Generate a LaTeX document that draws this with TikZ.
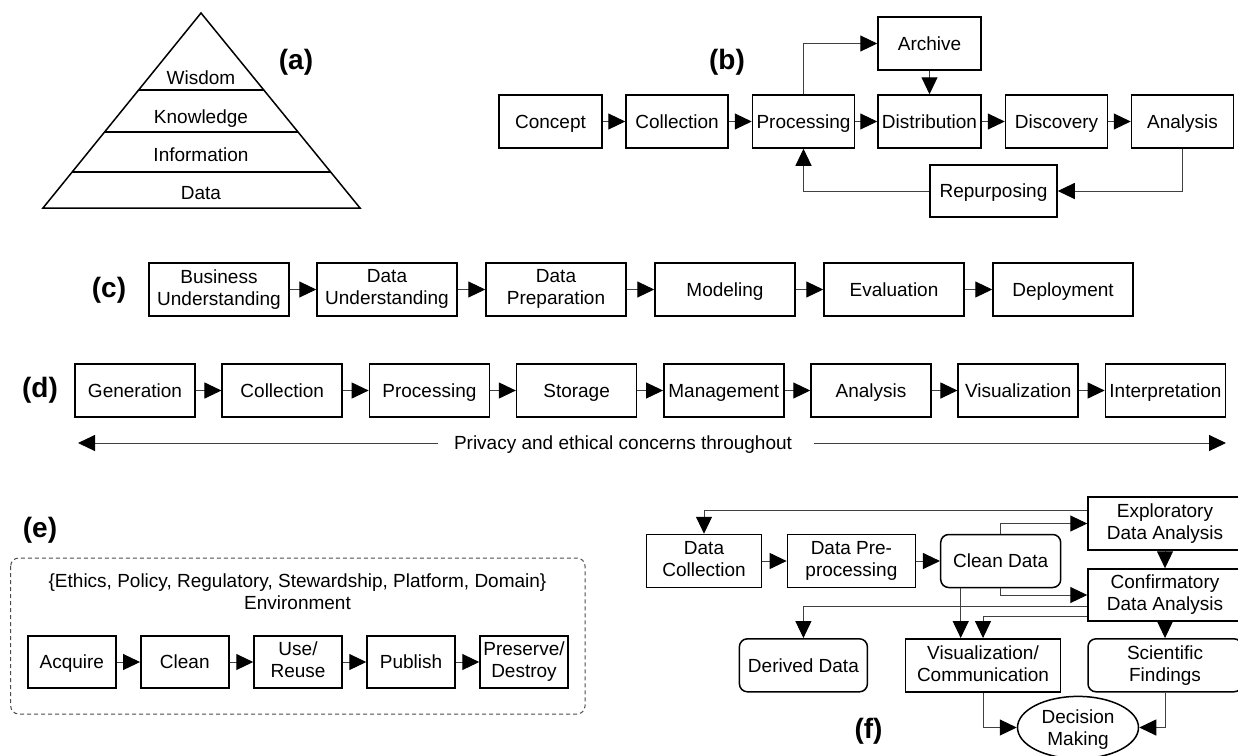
\documentclass[tikz,border=0pt]{standalone}
\usepackage{fontspec}
\setmainfont{Liberation Sans}
\usetikzlibrary{arrows.meta,shapes.geometric}
\newcommand\bstrut{\rule[-4.2pt]{0pt}{22pt}}

\begin{document}
\begin{tikzpicture}[x=1pt,y=-1pt,
  font=\fontsize{19}{22}\selectfont,
  box/.style={draw,line width=1.5pt,minimum height=53pt,inner sep=1pt,align=center,
    execute at begin node=\bstrut,execute at end node=\bstrut},
  rbox/.style={box,rounded corners=8pt},
  lbl/.style={font=\fontsize{28}{30}\selectfont\bfseries},
  arr/.style={-{Triangle[length=17pt,width=16pt,color=black]},line width=1pt,draw=black!75}]
  \useasboundingbox (0,0) rectangle (1238,755);

  % (a) pyramid
  \draw[line width=1.5pt] (201,13) -- (43,208) -- (360,208) -- cycle;
  \draw[line width=1.5pt] (138.6,90) -- (263.8,90);
  \draw[line width=1.5pt] (104.6,132) -- (298,132);
  \draw[line width=1.5pt] (72.2,172) -- (330.6,172);
  \node (a1) at (201,78) {\bstrut Wisdom};
  \node (a2) at (201,117) {\bstrut Knowledge};
  \node (a3) at (201,155) {\bstrut Information};
  \node (a4) at (201,193) {\bstrut Data};
  \node[lbl] (la) at (296,62) {(a)};

  % (b) life cycle with archive
  \node[box,minimum width=103pt] (b1) at (550.5,121.5) {Concept};
  \node[box,minimum width=102pt] (b2) at (677,121.5) {Collection};
  \node[box,minimum width=102pt] (b3) at (803.5,121.5) {Processing};
  \node[box,minimum width=103pt] (b4) at (929.5,121.5) {Distribution};
  \node[box,minimum width=102pt] (b5) at (1056.5,121.5) {Discovery};
  \node[box,minimum width=102pt] (b6) at (1182.5,121.5) {Analysis};
  \node[box,minimum width=103pt] (b7) at (929.5,43.5) {Archive}; % above Distribution
  \node[box,minimum width=127pt,minimum height=52pt] (b8) at (993.5,191) {Repurposing}; % loop back
  \node[lbl] (lb) at (727,62) {(b)};

  % (c) process model
  \node[lbl] (lc) at (109,290) {(c)};
  \node[box,minimum width=140pt] (c1) at (219,289.5) {Business\\Understanding};
  \node[box,minimum width=140pt] (c2) at (387,289.5) {Data\\Understanding};
  \node[box,minimum width=140pt] (c3) at (556,289.5) {Data\\Preparation};
  \node[box,minimum width=140pt] (c4) at (725,289.5) {Modeling};
  \node[box,minimum width=140pt] (c5) at (894,289.5) {Evaluation};
  \node[box,minimum width=140pt] (c6) at (1063,289.5) {Deployment};

  % (d) big data chain
  \node[lbl] (ld) at (40,390) {(d)};
  \node[box,minimum width=120pt] (d1) at (135,390.5) {Generation};
  \node[box,minimum width=120pt] (d2) at (282.2,390.5) {Collection};
  \node[box,minimum width=120pt] (d3) at (429.4,390.5) {Processing};
  \node[box,minimum width=120pt] (d4) at (576.6,390.5) {Storage};
  \node[box,minimum width=120pt] (d5) at (723.8,390.5) {Management};
  \node[box,minimum width=120pt] (d6) at (871,390.5) {Analysis};
  \node[box,minimum width=120pt] (d7) at (1018.2,390.5) {Visualization};
  \node[box,minimum width=120pt] (d8) at (1165.4,390.5) {Interpretation};
  \node[inner xsep=0pt] (pr) at (623,443) {\bstrut Privacy and ethical concerns throughout};
  \coordinate (prl) at (78,443);
  \coordinate (prr) at (1226,443);

  % (e) environment
  \node[lbl] (le) at (40,530) {(e)};
  \draw[dashed,dash pattern=on 4pt off 3pt,rounded corners=8pt,line width=1pt,black!70] (10.7,558) rectangle (585,714);
  \node[align=center] (env) at (297.5,592) {\bstrut\{Ethics, Policy, Regulatory, Stewardship, Platform, Domain\}\\Environment\bstrut};
  \node[box,minimum width=88pt,minimum height=52pt] (e1) at (71.8,662) {Acquire};
  \node[box,minimum width=88pt,minimum height=52pt] (e2) at (184.8,662) {Clean};
  \node[box,minimum width=88pt,minimum height=52pt] (e3) at (298,662) {Use/\\Reuse};
  \node[box,minimum width=88pt,minimum height=52pt,inner sep=0pt] (e4) at (411,662) {Publish};
  \node[box,minimum width=88pt,minimum height=52pt,inner sep=0pt] (e5) at (524,662) {Preserve/\\Destroy};

  % (f) data science workflow
  \node[box,minimum width=115pt] (f1) at (704,561) {Data\\Collection};
  \node[box,minimum width=128pt] (f2) at (851.4,561) {Data Pre-\\processing};
  \node[rbox,minimum width=120pt] (f3) at (1000.7,561) {Clean Data};
  \node[box,minimum width=154pt] (f4) at (1165,523.5) {Exploratory\\Data Analysis};
  \node[box,minimum width=154pt,minimum height=52pt] (f5) at (1165,595) {Confirmatory\\Data Analysis};
  \node[rbox,minimum width=128pt] (f6) at (803.4,665.3) {Derived Data};
  \node[box,minimum width=155pt] (f7) at (983,665.3) {Visualization/\\Communication};
  \node[rbox,minimum width=154pt] (f8) at (1165,665.3) {Scientific\\Findings};
  \node[ellipse,draw,line width=1.5pt,minimum width=121pt,minimum height=54pt,inner sep=0pt,align=center] (f9) at (1078,727.5) {\bstrut Decision\\Making\bstrut};
  \node[lbl] (lf) at (868.5,731) {(f)};
  \coordinate (cv) at ([xshift=-40pt]f3.south); % second line out of Clean Data

  % connectors (b)
  \draw[arr] (b1) -- (b2);
  \draw[arr] (b2) -- (b3);
  \draw[arr] (b3) -- (b4);
  \draw[arr] (b4) -- (b5);
  \draw[arr] (b5) -- (b6);
  \draw[arr] (b3.north) |- (b7.west);
  \draw[arr] (b7) -- (b4);
  \draw[arr] (b6.south) |- (b8.east);
  \draw[arr] (b8.west) -| (b3.south);

  % connectors (c)
  \draw[arr] (c1) -- (c2);
  \draw[arr] (c2) -- (c3);
  \draw[arr] (c3) -- (c4);
  \draw[arr] (c4) -- (c5);
  \draw[arr] (c5) -- (c6);

  % connectors (d)
  \draw[arr] (d1) -- (d2);
  \draw[arr] (d2) -- (d3);
  \draw[arr] (d3) -- (d4);
  \draw[arr] (d4) -- (d5);
  \draw[arr] (d5) -- (d6);
  \draw[arr] (d6) -- (d7);
  \draw[arr] (d7) -- (d8);
  \draw[arr,shorten <=16pt] (pr.west) -- (prl);
  \draw[arr,shorten <=22pt] (pr.east) -- (prr);

  % connectors (e)
  \draw[arr] (e1) -- (e2);
  \draw[arr] (e2) -- (e3);
  \draw[arr] (e3) -- (e4);
  \draw[arr] (e4) -- (e5);

  % connectors (f)
  \draw[arr] ([yshift=13.5pt]f4.west) -| (f1.north);
  \draw[arr] (f1) -- (f2);
  \draw[arr] (f2) -- (f3);
  \draw[arr] (f3.north) |- (f4.west);
  \draw[arr] (f3.south) |- (f5.west);
  \draw[arr] (f4) -- (f5);
  \draw[arr] ([yshift=-11.7pt]f5.west) -| (f6.north);
  \draw[arr] ([yshift=-21pt]f5.west) -| (f7.north);
  \draw[arr] (cv) -- (cv |- f7.north);
  \draw[arr] (f5) -- (f8);
  \draw[arr] (f7.south) |- (f9.west);
  \draw[arr] (f8.south) |- (f9.east);

\end{tikzpicture}
\end{document}
